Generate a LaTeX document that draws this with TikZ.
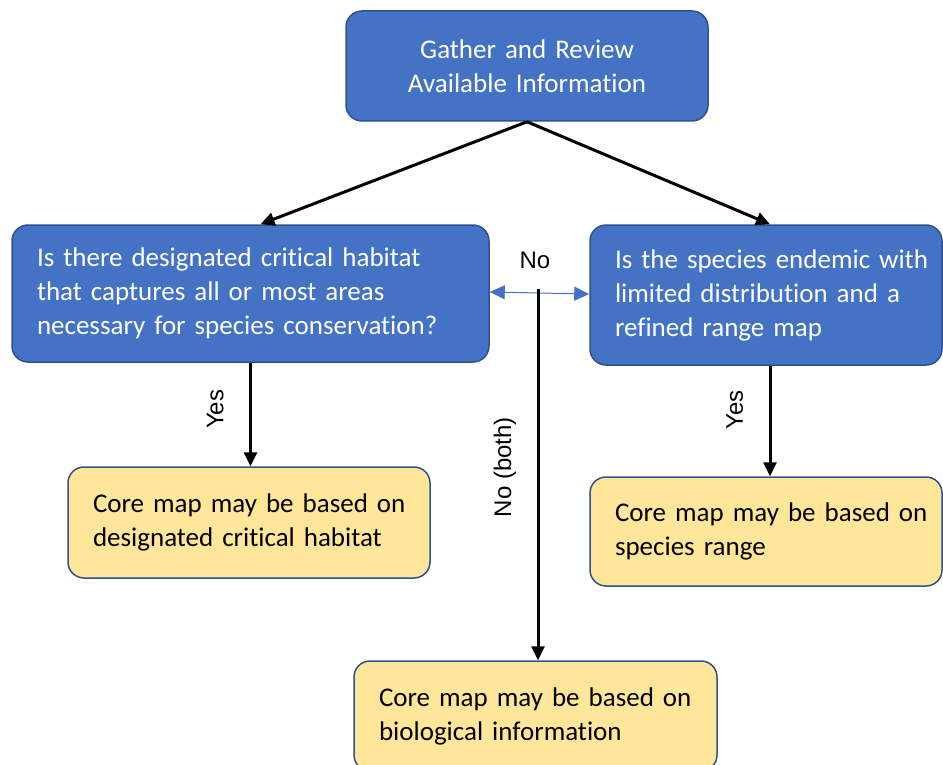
\documentclass[tikz,border=0pt]{standalone}
\usepackage{fontspec}
\setmainfont{Carlito}[Ligatures=CommonOff,RawFeature={-liga;-clig;-dlig}]
\newfontfamily\labelfont{Liberation Sans}
\usetikzlibrary{arrows.meta,calc}
\definecolor{boxblue}{HTML}{4472C4}
\definecolor{edgeblue}{HTML}{2F528F}
\definecolor{boxyellow}{HTML}{FFE699}
\newcommand\tiNoLig{t\kern0pt i}
\begin{document}
\begin{tikzpicture}[x=1pt,y=-1pt,
  basebox/.style={rectangle, rounded corners=16pt, draw=edgeblue, line width=1.5pt,
    inner xsep=25pt, inner ysep=0pt, font=\fontsize{27}{34}\selectfont},
  qbox/.style={basebox, fill=boxblue, text=white},
  abox/.style={basebox, fill=boxyellow, text=black},
  flow/.style={line width=3pt, -{Triangle[length=14pt,width=13pt]}},
  lbl/.style={font=\labelfont\fontsize{24}{28}\selectfont, text=black}
]
\clip (0,0) rectangle (943,765);
\path[use as bounding box] (0,0) rectangle (943,765);

\node[qbox, align=center, minimum width=362pt, minimum height=110pt, text width=312pt] (top) at (527,66)
  {Gather and Review\\Available Informa\tiNoLig on};
\node[qbox, align=left, minimum width=477pt, minimum height=137pt, text width=427pt] (lq) at (250.5,293.5)
  {\mbox{Is there designated cri\tiNoLig cal habitat}\\\mbox{that captures all or most areas}\\\mbox{necessary for species conserva\tiNoLig on?}};
\node[qbox, align=left, minimum width=352pt, minimum height=140pt, text width=302pt] (rq) at (766,295)
  {\mbox{Is the species endemic with}\\\mbox{limited distribu\tiNoLig on and a}\\\mbox{refined range map}};
\node[abox, align=left, minimum width=362pt, minimum height=111pt, text width=312pt] (ly) at (249,522.5)
  {\mbox{Core map may be based on}\\\mbox{designated cri\tiNoLig cal habitat}};
\node[abox, align=left, minimum width=352pt, minimum height=109pt, text width=302pt] (ry) at (766,531.5)
  {\mbox{Core map may be based on}\\\mbox{species range}};
\node[abox, align=left, minimum width=363pt, minimum height=110pt, text width=313pt] (by) at (535.5,716)
  {\raisebox{9pt}{\parbox{313pt}{\mbox{Core map may be based on}\\\mbox{biological informa\tiNoLig on}}}};

\draw[flow] (top.south) -- ([xshift=10pt]lq.north);
\draw[flow] (top.south) -- ([xshift=4pt]rq.north);

\draw[flow] (lq.south) -- (lq.south |- ly.north) node[pos=0.45, lbl, rotate=90, above=22pt] {Yes};
\draw[flow] ([xshift=4pt]rq.south) -- ([xshift=4pt]rq.south |- ry.north) node[pos=0.4, lbl, rotate=90, above=22pt] {Yes};

\draw[boxblue, line width=1pt, {Triangle[length=15pt,width=14pt]}-{Triangle[length=15pt,width=14pt]}]
  (lq.east |- 0,292) -- (rq.west |- 0,294);
\node[lbl] (no) at (535,260) {No};

\coordinate (split) at (538,289);
\draw[flow] (split) -- (split |- by.north) node[pos=0.48, lbl, rotate=90, above=17pt] {No (both)};
\end{tikzpicture}
\end{document}
